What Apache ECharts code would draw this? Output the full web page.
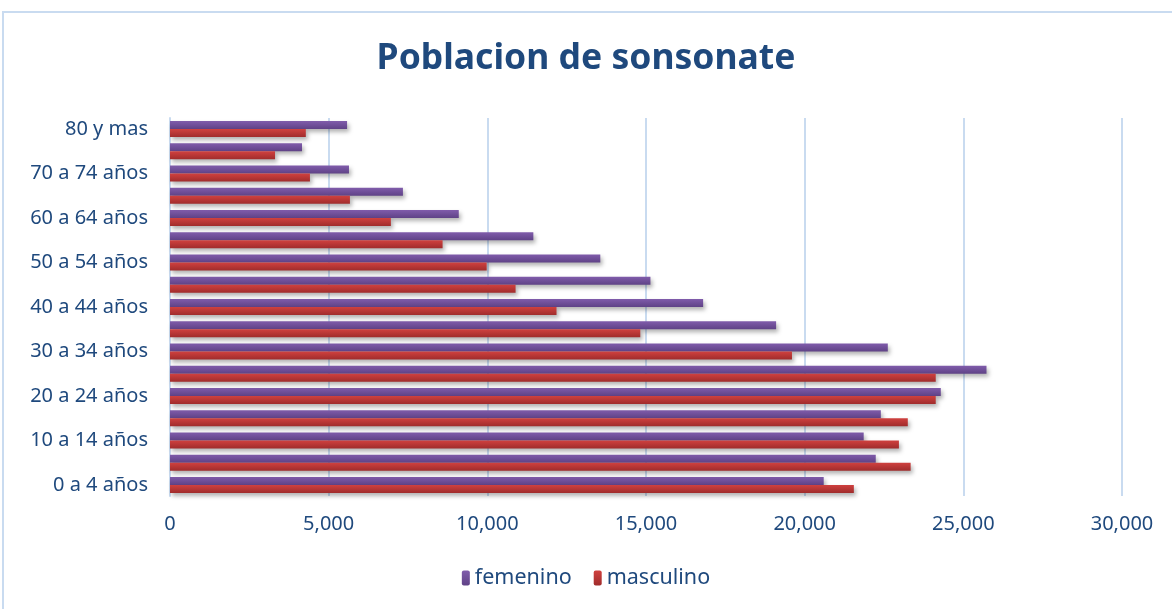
<!DOCTYPE html>
<html><head><meta charset="utf-8">
<script src="https://cdn.jsdelivr.net/npm/echarts@6/dist/echarts.min.js"></script>
<style>html,body{margin:0;padding:0;background:#fff}#c{width:1172px;height:609px}</style>
</head><body><div id="c"></div>
<script>
const categories = ['0 a 4 años','5 a 9 años','10 a 14 años','15 a 19 años','20 a 24 años','25 a 29 años','30 a 34 años','35 a 39 años','40 a 44 años','45 a 49 años','50 a 54 años','55 a 59 años','60 a 64 años','65 a 69 años','70 a 74 años','75 a 79 años','80 y mas'];
const femenino = [20600,22240,21860,22400,24290,25730,22620,19100,16800,15140,13560,11450,9100,7340,5640,4160,5580];
const masculino = [21550,23340,22970,23250,24130,24130,19600,14820,12180,10890,9980,8590,6960,5670,4410,3310,4280];
const xTicks = [0,5000,10000,15000,20000,25000,30000];

const txt = '#1F497D';
const font = 'Noto Sans';
const chart = echarts.init(document.getElementById('c'));
function grad(a,b){return new echarts.graphic.LinearGradient(0,0,0,1,[{offset:0,color:a},{offset:1,color:b}]);}
chart.setOption({
  animation:false,
  graphic:[{type:'rect',shape:{x:3,y:12,width:1200,height:640},style:{fill:'none',stroke:'#c9dbf0',lineWidth:2}}],
  title:{text:'Poblacion de sonsonate',left:'center',top:36,textStyle:{fontFamily:font,fontWeight:'bold',fontSize:35.5,color:txt}},
  legend:{bottom:15,left:'center',itemWidth:8,itemHeight:15,itemGap:22,textStyle:{fontFamily:font,fontSize:21.5,color:txt},data:['femenino','masculino']},
  grid:{left:170,right:50,top:118,bottom:113,containLabel:false},
  xAxis:{type:'value',min:xTicks[0],max:xTicks[xTicks.length-1],interval:5000,
    axisLine:{show:false},axisTick:{show:false},
    axisLabel:{margin:18,fontFamily:font,fontSize:20,color:txt,formatter:v=>v.toLocaleString('en-US')},
    splitLine:{lineStyle:{color:'#c9dbf0',width:2}}},
  yAxis:{type:'category',data:categories,
    axisLine:{show:true,lineStyle:{color:'#c9dbf0',width:2}},axisTick:{show:false},
    axisLabel:{interval:1,margin:22,fontFamily:font,fontSize:20,color:txt}},
  series:[
    {name:'femenino',type:'bar',data:femenino,barWidth:8,barGap:'0%',
      itemStyle:{color:grad('#805cab','#5f4286'),shadowColor:'rgba(0,0,0,0.3)',shadowBlur:4,shadowOffsetX:2,shadowOffsetY:3}},
    {name:'masculino',type:'bar',data:masculino,barWidth:8,barGap:'0%',
      itemStyle:{color:grad('#d0413f','#a02c2c'),shadowColor:'rgba(0,0,0,0.3)',shadowBlur:4,shadowOffsetX:2,shadowOffsetY:3}}
  ]
});
</script></body></html>
